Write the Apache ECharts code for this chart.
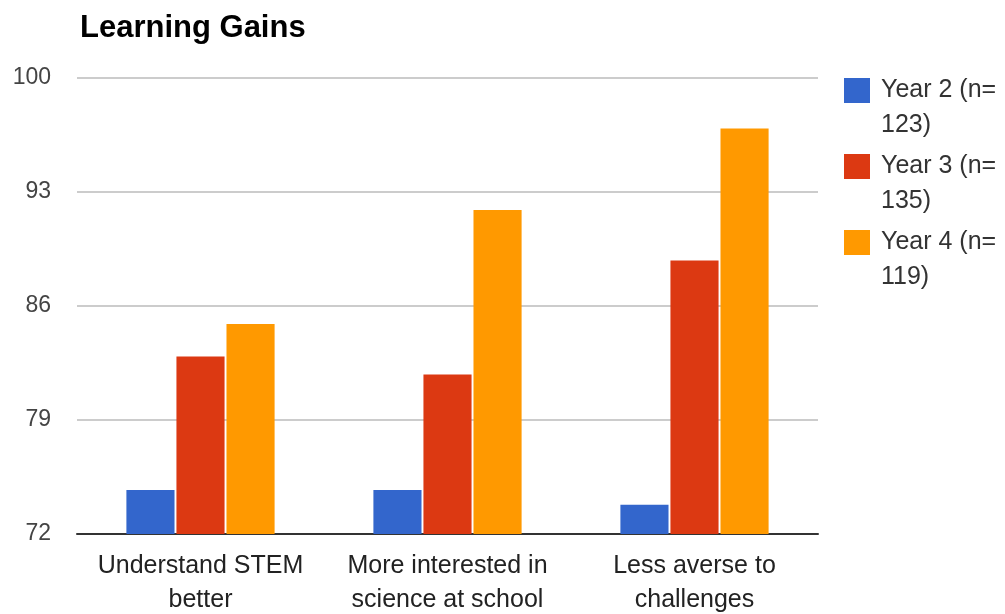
<!DOCTYPE html>
<html>
<head>
<meta charset="utf-8">
<script src="https://cdn.jsdelivr.net/npm/echarts@6/dist/echarts.min.js"></script>
<style>
html,body{margin:0;padding:0;background:#fff;}
#chart{width:1005px;height:614px;}
</style>
</head>
<body>
<div id="chart"></div>
<script>
const categories = ["Understand STEM\nbetter", "More interested in\nscience at school", "Less averse to\nchallenges"];
const seriesNames = ["Year 2 (n=123)", "Year 3 (n=135)", "Year 4 (n=119)"];
const year2 = [74.7, 74.7, 73.8];
const year3 = [82.9, 81.8, 88.8];
const year4 = [84.9, 91.9, 96.9];
const yTicks = [72, 79, 86, 93, 100];

const FONT = "'Liberation Sans', Arial, sans-serif";
const colors = ['#3366cc', '#dc3912', '#ff9900'];
const seriesData = [year2, year3, year4];

const chart = echarts.init(document.getElementById('chart'));
chart.setOption({
  animation: false,
  color: colors,
  title: {
    text: 'Learning Gains',
    left: 75, top: 8,
    textStyle: {fontFamily: FONT, fontSize: 31, fontWeight: 'bold', color: '#000'}
  },
  legend: {
    orient: 'vertical',
    left: 844, top: 38,
    padding: 0,
    itemWidth: 26, itemHeight: 25,
    itemGap: -29,
    icon: 'rect',
    formatter: function (name) { return ' \n' + name.replace('(n=', '(n=\n'); },
    textStyle: {fontFamily: FONT, fontSize: 25, color: '#333', lineHeight: 35, padding: [0, 0, 0, 6]},
    data: seriesNames
  },
  grid: {left: 77, right: 187, top: 78, bottom: 80, containLabel: false, outerBoundsMode: 'none'},
  xAxis: {
    type: 'category',
    data: categories,
    axisTick: {show: false},
    axisLine: {lineStyle: {color: '#333', width: 2}},
    axisLabel: {fontFamily: FONT, fontSize: 25, color: '#222', lineHeight: 34, margin: 15, interval: 0, hideOverlap: false}
  },
  yAxis: {
    type: 'value',
    min: yTicks[0], max: yTicks[yTicks.length - 1], interval: 7,
    axisLine: {show: false},
    axisTick: {show: false},
    splitLine: {lineStyle: {color: '#cccccc', width: 2}},
    axisLabel: {fontFamily: FONT, fontSize: 23, color: '#444', margin: 26,
      formatter: function (v) { return yTicks.indexOf(v) >= 0 ? String(v) : ''; }}
  },
  series: seriesNames.map(function (n, i) {
    return {
      name: n, type: 'bar', data: seriesData[i],
      barGap: '4%', barCategoryGap: '40%'
    };
  })
});
</script>
</body>
</html>
